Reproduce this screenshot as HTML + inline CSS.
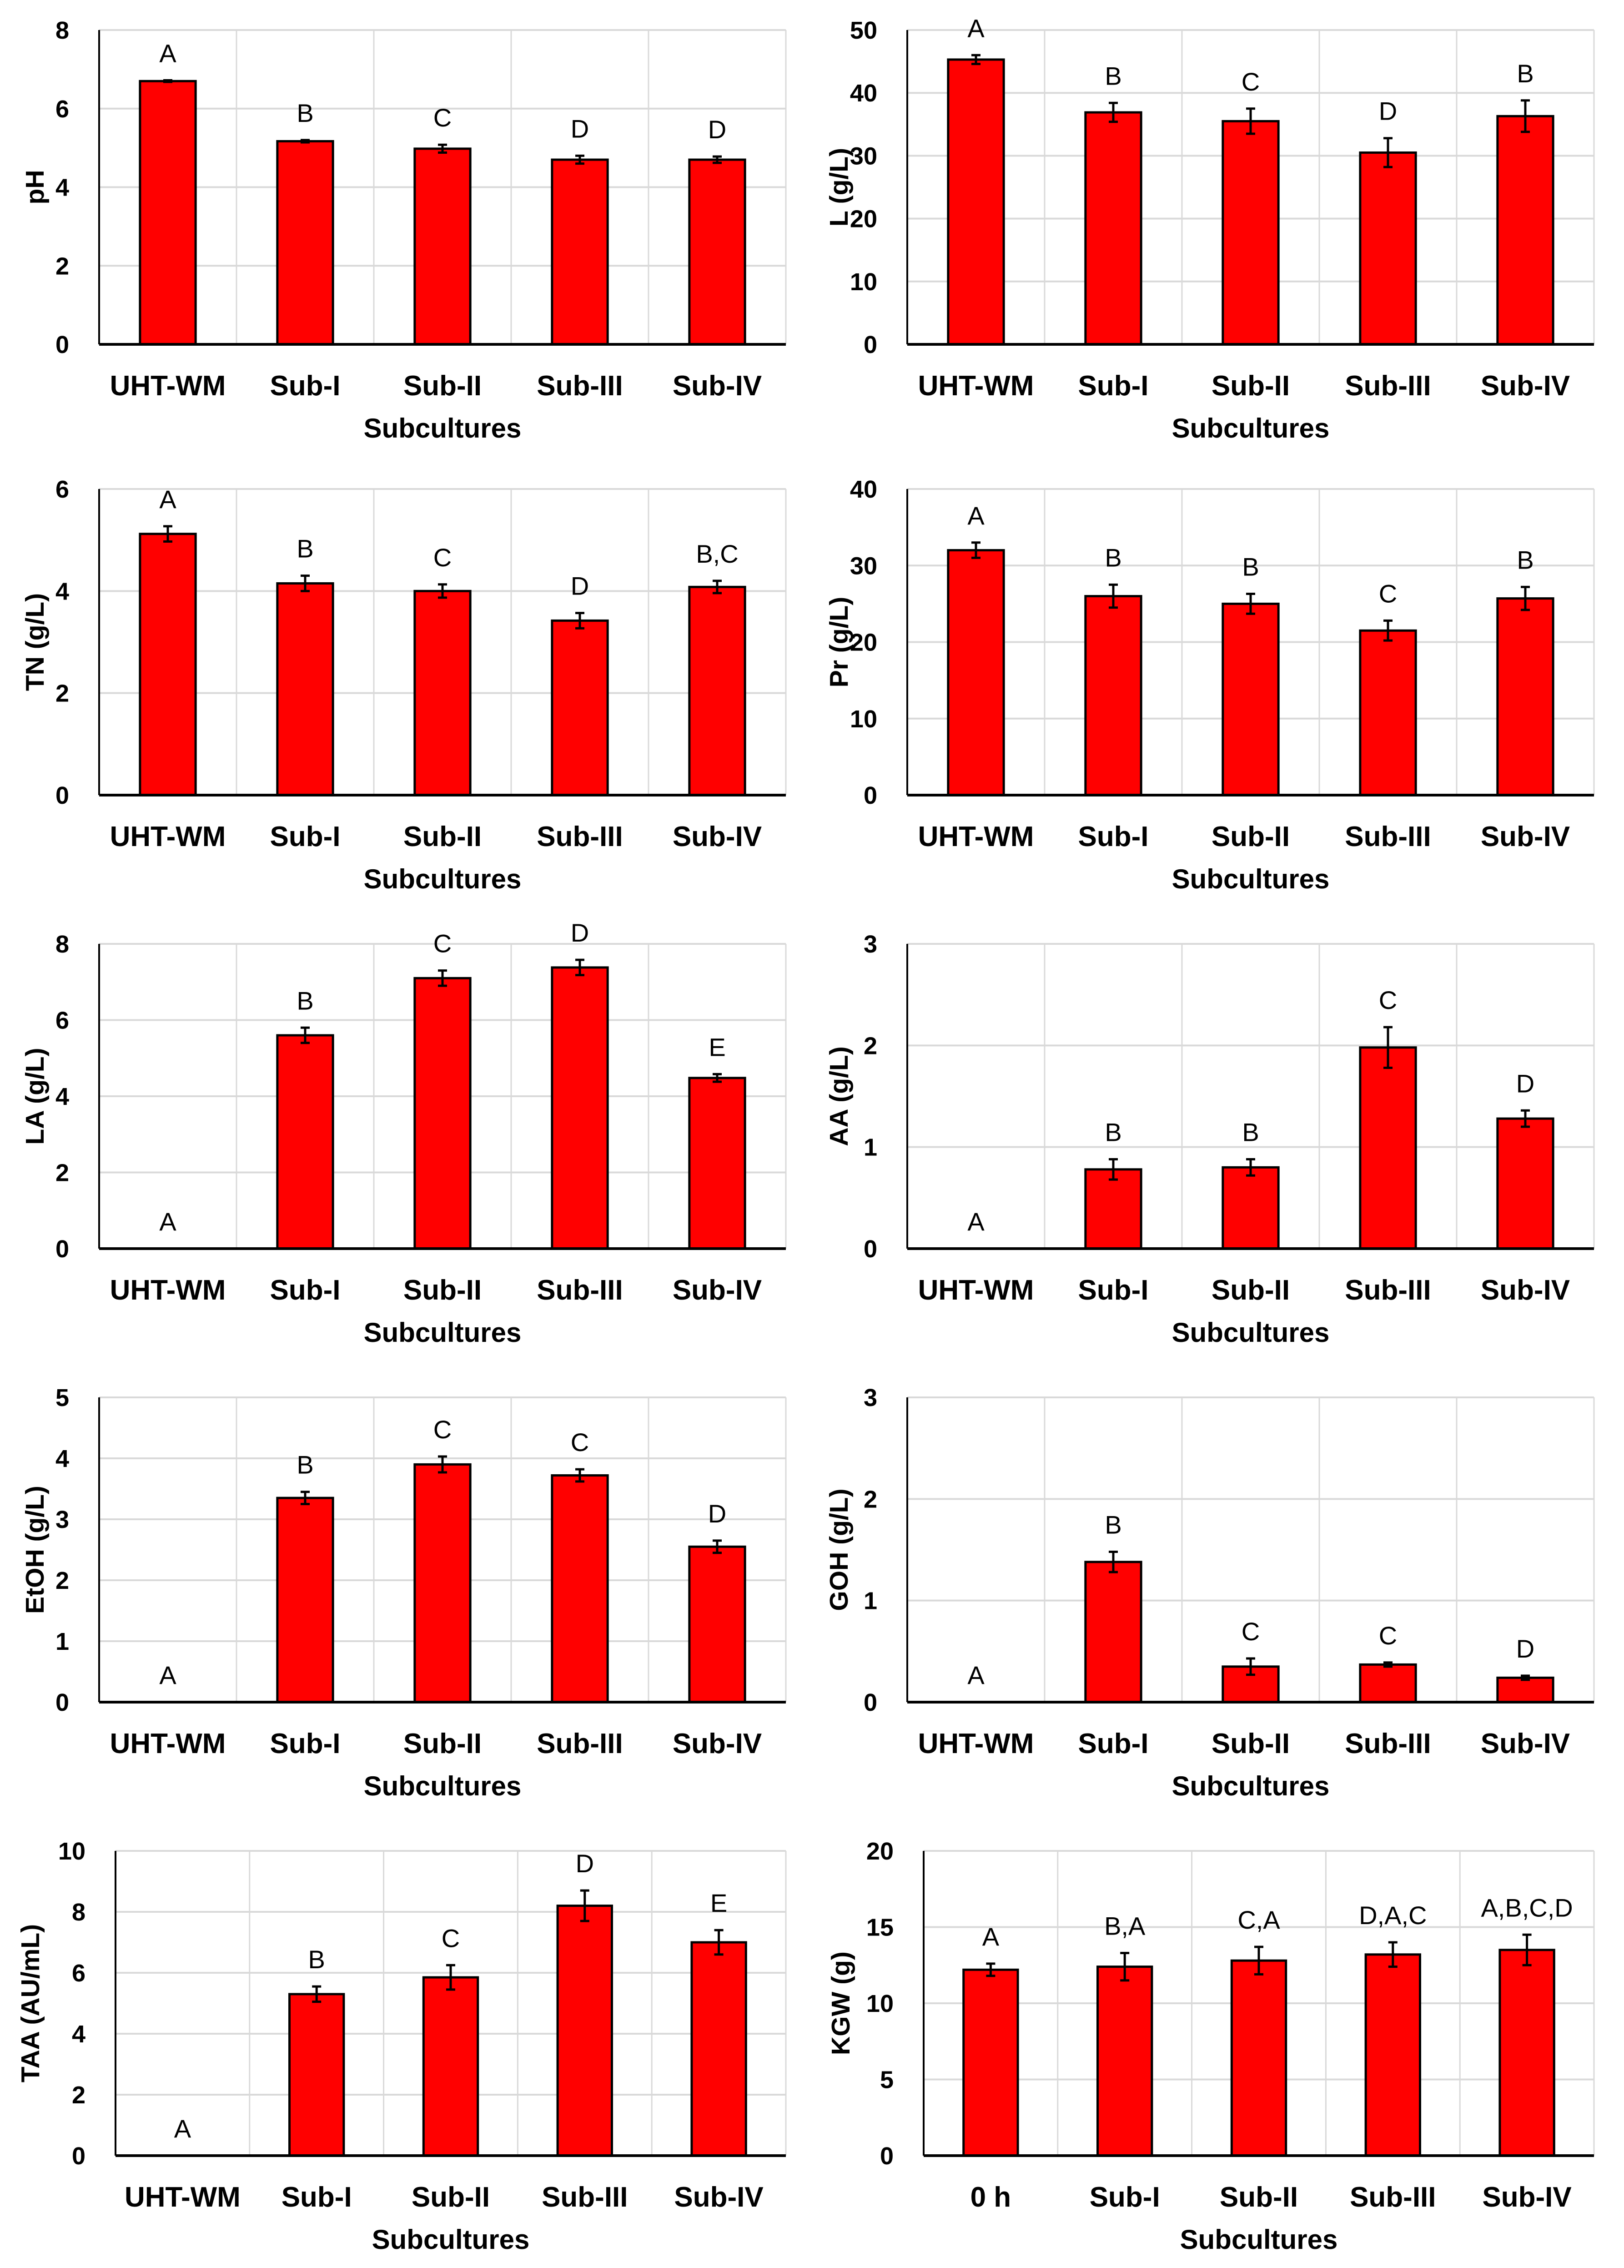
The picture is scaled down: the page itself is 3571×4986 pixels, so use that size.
<!DOCTYPE html>
<html><head><meta charset="utf-8">
<style>
html,body{margin:0;padding:0;background:#fff;}
svg{display:block;}
text{font-family:"Liberation Sans",sans-serif;}
</style></head>
<body>
<svg id="fig" width="3571" height="4986" viewBox="0 0 3571 4986" xmlns="http://www.w3.org/2000/svg"></svg>
<script>
const subCats = ["UHT-WM","Sub-I","Sub-II","Sub-III","Sub-IV"];
const kgwCats = ["0 h","Sub-I","Sub-II","Sub-III","Sub-IV"];

const phValues = [6.7,5.17,4.98,4.7,4.7];
const phErrors = [0.02,0.03,0.1,0.1,0.08];
const phLetters = ["A","B","C","D","D"];
const phTicks = [0,2,4,6,8];

const lValues = [45.3,36.9,35.5,30.5,36.3];
const lErrors = [0.7,1.5,2,2.3,2.5];
const lLetters = ["A","B","C","D","B"];
const lTicks = [0,10,20,30,40,50];

const tnValues = [5.12,4.15,4.0,3.42,4.08];
const tnErrors = [0.15,0.15,0.13,0.15,0.12];
const tnLetters = ["A","B","C","D","B,C"];
const tnTicks = [0,2,4,6];

const prValues = [32,26,25,21.5,25.7];
const prErrors = [1,1.5,1.3,1.3,1.5];
const prLetters = ["A","B","B","C","B"];
const prTicks = [0,10,20,30,40];

const laValues = [0,5.6,7.1,7.38,4.48];
const laErrors = [0,0.2,0.2,0.2,0.1];
const laLetters = ["A","B","C","D","E"];
const laTicks = [0,2,4,6,8];

const aaValues = [0,0.78,0.8,1.98,1.28];
const aaErrors = [0,0.1,0.08,0.2,0.08];
const aaLetters = ["A","B","B","C","D"];
const aaTicks = [0,1,2,3];

const etValues = [0,3.35,3.9,3.72,2.55];
const etErrors = [0,0.1,0.13,0.1,0.1];
const etLetters = ["A","B","C","C","D"];
const etTicks = [0,1,2,3,4,5];

const gohValues = [0,1.38,0.35,0.37,0.24];
const gohErrors = [0,0.1,0.08,0.02,0.02];
const gohLetters = ["A","B","C","C","D"];
const gohTicks = [0,1,2,3];

const taaValues = [0,5.3,5.85,8.2,7.0];
const taaErrors = [0,0.25,0.4,0.5,0.4];
const taaLetters = ["A","B","C","D","E"];
const taaTicks = [0,2,4,6,8,10];

const kgwValues = [12.2,12.4,12.8,13.2,13.5];
const kgwErrors = [0.4,0.9,0.9,0.8,1.0];
const kgwLetters = ["A","B,A","C,A","D,A,C","A,B,C,D"];
const kgwTicks = [0,5,10,15,20];

const svg = document.getElementById('fig');
const NS = "http://www.w3.org/2000/svg";
function mk(tag, attrs, parent){
  const e = document.createElementNS(NS, tag);
  for (const k in attrs) e.setAttribute(k, attrs[k]);
  parent.appendChild(e);
  return e;
}

function chart(p){
  const g = mk('g', {}, svg);
  
  
  const x0=p.x0, x1=p.x1, y0=p.top, yb=p.base;
  const tmax = p.ticks[p.ticks.length-1];
  const yS = v => yb - (v/tmax)*(yb-y0);
  const cw = (x1-x0)/p.cats.length;
  const xC = i => x0 + cw*(i+0.5);
  p.ticks.forEach(t=>{
    if (t===0) return;
    const l = mk('line',{x1:x0,x2:x1,y1:yS(t),y2:yS(t),stroke:'#d9d9d9','stroke-width':4},g);
    
    
  });
  for (let i=1;i<=p.cats.length;i++){
    const l = mk('line',{x1:x0+cw*i,x2:x0+cw*i,y1:y0,y2:yb,stroke:'#d9d9d9','stroke-width':3},g);
    
    
  }
  p.ticks.forEach(t=>{
    const tx = mk('text',{x:x0-66,y:yS(t)+19,'text-anchor':'end','font-size':54,'font-weight':'bold',fill:'#000'},g);
    tx.textContent = t;
    
    
  });
  const bw = cw*0.405;
  p.values.forEach((v,i)=>{
    const h = yb - yS(v);
    if (h>0.5){
      const r = mk('rect',{x:xC(i)-bw/2,y:yS(v),width:bw,height:h,fill:'#ff0000',stroke:'#000','stroke-width':5},g);
      
      
    }
    const e = p.errors[i];
    let topY = yS(v);
    if (e>0){
      const eg = mk('g',{stroke:'#000','stroke-width':5},g);
      
      
      mk('line',{x1:xC(i),x2:xC(i),y1:yS(v+e),y2:yS(v-e)},eg);
      mk('line',{x1:xC(i)-10,x2:xC(i)+10,y1:yS(v+e),y2:yS(v+e)},eg);
      mk('line',{x1:xC(i)-10,x2:xC(i)+10,y1:yS(v-e),y2:yS(v-e)},eg);
      topY = yS(v+e);
    }
    const lt = mk('text',{x:xC(i),y:topY-40,'text-anchor':'middle','font-size':56,fill:'#000'},g);
    lt.textContent = p.letters[i];
    
    
    const ct = mk('text',{x:xC(i),y:yb+112,'text-anchor':'middle','font-size':62,'font-weight':'bold',fill:'#000'},g);
    ct.textContent = p.cats[i];
    
    
  });
  const ax = mk('line',{x1:x0,x2:x1,y1:yb,y2:yb,stroke:'#000','stroke-width':6},g);
  
  
  const ay = mk('line',{x1:x0,x2:x0,y1:y0,y2:yb,stroke:'#000','stroke-width':4},g);
  
  
  const xt = mk('text',{x:(x0+x1)/2,y:yb+205,'text-anchor':'middle','font-size':60,'font-weight':'bold',fill:'#000'},g);
  xt.textContent = 'Subcultures';
  
  
  const yx = p.ylx, yy=(y0+yb)/2;
  const yt = mk('text',{x:yx,y:yy,'text-anchor':'middle','font-size':57,'font-weight':'bold',fill:'#000',transform:`rotate(-90 ${yx} ${yy})`},g);
  yt.textContent = p.ylabel;
  
  
}

const tops=[66,1075,2075,3072,4069], bases=[757,1748,2745,3742,4739];
chart({name:'ph-chart',x0:218,x1:1728,top:tops[0],base:bases[0],cats:subCats,values:phValues,errors:phErrors,letters:phLetters,ticks:phTicks,ylabel:'pH',ylx:96});
chart({name:'l-chart',x0:1995,x1:3505,top:tops[0],base:bases[0],cats:subCats,values:lValues,errors:lErrors,letters:lLetters,ticks:lTicks,ylabel:'L (g/L)',ylx:1864});
chart({name:'tn-chart',x0:218,x1:1728,top:tops[1],base:bases[1],cats:subCats,values:tnValues,errors:tnErrors,letters:tnLetters,ticks:tnTicks,ylabel:'TN (g/L)',ylx:96});
chart({name:'pr-chart',x0:1995,x1:3505,top:tops[1],base:bases[1],cats:subCats,values:prValues,errors:prErrors,letters:prLetters,ticks:prTicks,ylabel:'Pr (g/L)',ylx:1864});
chart({name:'la-chart',x0:218,x1:1728,top:tops[2],base:bases[2],cats:subCats,values:laValues,errors:laErrors,letters:laLetters,ticks:laTicks,ylabel:'LA (g/L)',ylx:96});
chart({name:'aa-chart',x0:1995,x1:3505,top:tops[2],base:bases[2],cats:subCats,values:aaValues,errors:aaErrors,letters:aaLetters,ticks:aaTicks,ylabel:'AA (g/L)',ylx:1864});
chart({name:'etoh-chart',x0:218,x1:1728,top:tops[3],base:bases[3],cats:subCats,values:etValues,errors:etErrors,letters:etLetters,ticks:etTicks,ylabel:'EtOH (g/L)',ylx:96});
chart({name:'goh-chart',x0:1995,x1:3505,top:tops[3],base:bases[3],cats:subCats,values:gohValues,errors:gohErrors,letters:gohLetters,ticks:gohTicks,ylabel:'GOH (g/L)',ylx:1864});
chart({name:'taa-chart',x0:254,x1:1728,top:tops[4],base:bases[4],cats:subCats,values:taaValues,errors:taaErrors,letters:taaLetters,ticks:taaTicks,ylabel:'TAA (AU/mL)',ylx:86});
chart({name:'kgw-chart',x0:2031,x1:3505,top:tops[4],base:bases[4],cats:kgwCats,values:kgwValues,errors:kgwErrors,letters:kgwLetters,ticks:kgwTicks,ylabel:'KGW (g)',ylx:1868});
</script>
</body></html>
